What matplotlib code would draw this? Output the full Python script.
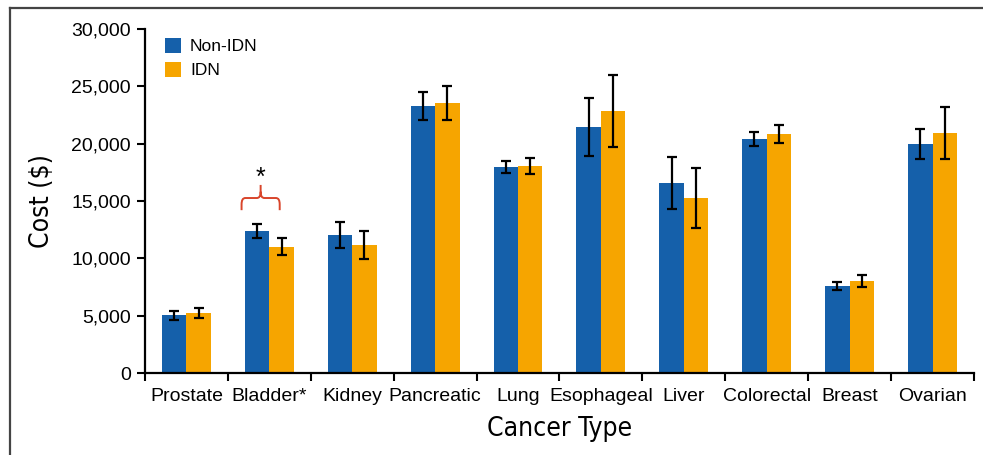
import matplotlib
matplotlib.use("Agg")
import matplotlib.pyplot as plt
import numpy as np
from matplotlib.path import Path
from matplotlib.patches import PathPatch
from matplotlib.lines import Line2D
from matplotlib.font_manager import fontManager

categories = ["Prostate", "Bladder*", "Kidney", "Pancreatic", "Lung",
              "Esophageal", "Liver", "Colorectal", "Breast", "Ovarian"]
non_idn = [5050, 12380, 12030, 23290, 17970, 21450, 16570, 20400, 7590, 19970]
non_idn_err = [400, 650, 1100, 1200, 520, 2500, 2300, 600, 320, 1350]
idn = [5230, 10990, 11160, 23550, 18050, 22850, 15260, 20840, 8020, 20930]
idn_err = [450, 740, 1220, 1500, 730, 3150, 2600, 800, 540, 2300]
yticks = [0, 5000, 10000, 15000, 20000, 25000, 30000]

names = {f.name for f in fontManager.ttflist}
base = "Liberation Sans" if "Liberation Sans" in names else "DejaVu Sans"
plt.rcParams['font.family'] = [base, 'DejaVu Sans']

blue = "#1560AA"
orange = "#F6A500"

fig = plt.figure(figsize=(9.83, 4.55), dpi=100)
ax = fig.add_axes([0.1475, 0.1802, 0.8433, 0.7561])

x = np.arange(len(categories))
w = 0.295
ax.bar(x - w / 2, non_idn, w, color=blue, label="Non-IDN", zorder=2)
ax.bar(x + w / 2, idn, w, color=orange, label="IDN", zorder=2)
ekw = dict(fmt="none", ecolor="black", elinewidth=1.6, capsize=3.5, capthick=1.6, zorder=3)
ax.errorbar(x - w / 2, non_idn, yerr=non_idn_err, **ekw)
ax.errorbar(x + w / 2, idn, yerr=idn_err, **ekw)

ax.set_xlim(-0.5, len(categories) - 0.5)
ax.set_ylim(0, 30000)
ax.set_yticks(yticks)
ax.set_yticklabels([f"{v:,}" for v in yticks], fontsize=14)
ax.set_xticks(x)
ax.set_xticklabels(categories, fontsize=14)
ax.set_xticks(np.arange(-0.5, len(categories)), minor=True)
ax.tick_params(axis='x', which='major', length=0, pad=11)
ax.tick_params(axis='x', which='minor', length=6, width=1.5, direction='out')
ax.tick_params(axis='y', length=6, width=1.5, direction='out', pad=4)
for s in ['top', 'right']:
    ax.spines[s].set_visible(False)
for s in ['left', 'bottom']:
    ax.spines[s].set_linewidth(1.6)

ax.set_ylabel("Cost ($)", fontsize=19, family='DejaVu Sans', fontstretch='condensed', labelpad=12)
ax.set_xlabel("Cancer Type", fontsize=19, family='DejaVu Sans', fontstretch='condensed', labelpad=8)

leg = ax.legend(loc='upper left', bbox_to_anchor=(0.005, 1.02), frameon=False, fontsize=12.5,
                handlelength=0.95, handleheight=0.95, handletextpad=0.5, labelspacing=0.45)

# significance bracket over Bladder
x0, x1 = 0.665, 1.125
xm = (x0 + x1) / 2
yb, yh, yp = 14200, 15260, 16400
r = 0.045
dy = 550
verts = [(x0, yb), (x0, yh - dy), (x0, yh), (x0 + r, yh),
         (xm - r, yh), (xm, yh), (xm, yh + dy),
         (xm, yp),
         (xm, yh + dy), (xm, yh), (xm + r, yh),
         (x1 - r, yh), (x1, yh), (x1, yh - dy), (x1, yb)]
codes = [Path.MOVETO, Path.LINETO, Path.CURVE3, Path.CURVE3,
         Path.LINETO, Path.CURVE3, Path.CURVE3,
         Path.LINETO,
         Path.MOVETO, Path.CURVE3, Path.CURVE3,
         Path.LINETO, Path.CURVE3, Path.CURVE3, Path.LINETO]
ax.add_patch(PathPatch(Path(verts, codes), fill=False, edgecolor="#D9452B", lw=1.4,
                       capstyle='butt', zorder=4))
ax.text(xm, 17000, "*", ha='center', va='center', fontsize=18, color='black')

# outer frame lines (top & left)
fig.add_artist(Line2D([10 / 983, 1], [1 - 8 / 455, 1 - 8 / 455], transform=fig.transFigure,
                      color="#444444", lw=1.6))
fig.add_artist(Line2D([10 / 983, 10 / 983], [0, 1 - 8 / 455], transform=fig.transFigure,
                      color="#444444", lw=1.6))

fig.savefig("out.png", dpi=100)
